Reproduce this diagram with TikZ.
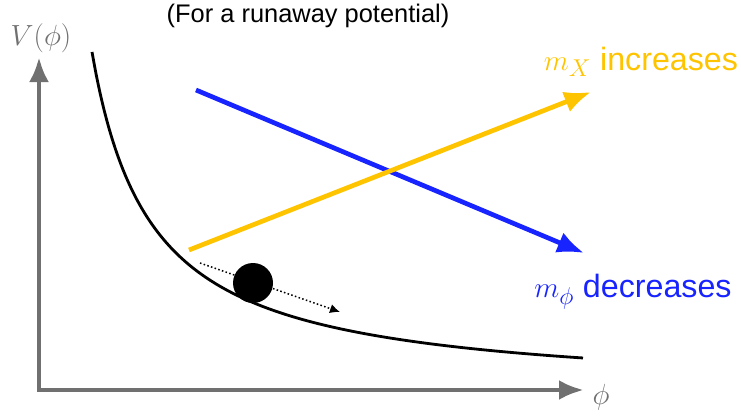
\documentclass[tikz,border=0pt]{standalone}
\usepackage{fontspec}
\setmainfont{Liberation Sans}
\usetikzlibrary{arrows.meta}
\definecolor{axisgray}{RGB}{112,112,112}
\definecolor{massyellow}{RGB}{255,196,0}
\definecolor{massblue}{RGB}{24,36,255}
\tikzset{
  axis/.style={axisgray, line width=4.2pt, {Latex[length=0.75cm,width=0.6cm]}-{Latex[length=0.75cm,width=0.6cm]}},
  massarrow/.style={line width=4pt, -{Latex[length=0.8cm,width=0.65cm]}},
  biglabel/.style={font=\fontsize{27.5}{32}\selectfont, inner sep=0pt},
  axislabel/.style={axisgray, font=\fontsize{25.5}{30}\selectfont, inner sep=0pt},
}
\begin{document}
\begin{tikzpicture}[x=0.03cm,y=-0.03cm]
  \useasboundingbox (0,0) rectangle (741,416);
  % axes
  \coordinate (ytip) at (39,57);
  \coordinate (xtip) at (584,390);
  \draw[axis] (ytip) |- (xtip);
  \node[axislabel] (vlabel) at (41,38) {$V(\phi)$};
  \node[axislabel] (philabel) at (601,397) {$\phi$};
  \node[font=\fontsize{21.7}{25}\selectfont, inner sep=0pt] (title) at (308,16) {(For a runaway potential)};
  % potential
  \draw[line width=2.4pt, domain=92:583, samples=120, smooth, variable=\t]
    plot ({\t}, {395-203.74/((\t-32.6)/100)});
  % rolling field
  \coordinate (rollstart) at (200,263);
  \coordinate (rollend) at (340,312);
  \draw[dotted, line width=1.3pt, -{Latex[length=0.3cm,width=0.28cm]}] (rollstart) -- (rollend);
  \node[circle, fill, minimum size=1.2cm, inner sep=0pt] (ball) at (253,283) {};
  % masses
  \coordinate (blue start) at (196,90);
  \coordinate (blue end) at (584,253);
  \coordinate (yellow start) at (189,250);
  \coordinate (yellow end) at (591,92);
  \draw[massarrow, massblue] (blue start) -- (blue end);
  \draw[massarrow, massyellow] (yellow start) -- (yellow end);
  \node[biglabel, massyellow] (mx) at (641,62) {$m_X$ increases};
  \node[biglabel, massblue] (mphi) at (633,292) {$m_\phi$ decreases};
\end{tikzpicture}
\end{document}
